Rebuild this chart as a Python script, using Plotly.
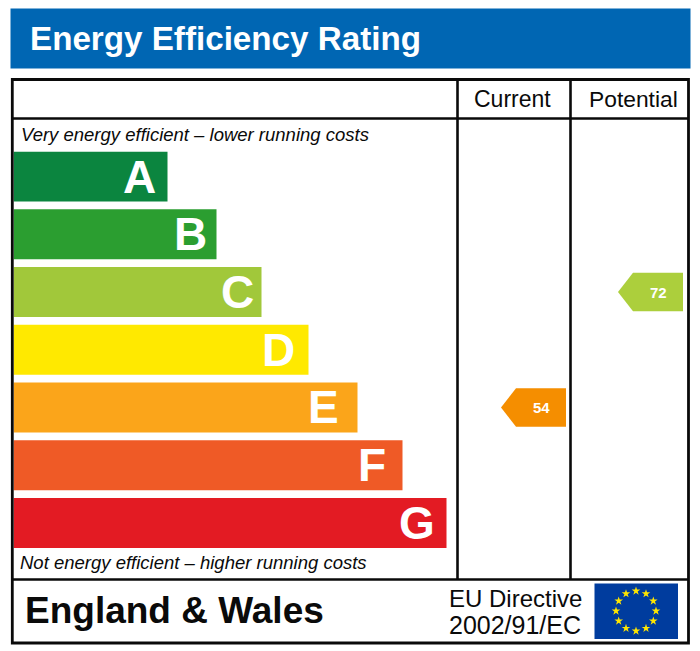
import numpy as np
import plotly.graph_objects as go

W, H = 700, 651
PAGE = 8  # body margin of the page the figure lands on

# Rating bands
bands = ['A', 'B', 'C', 'D', 'E', 'F', 'G']
band_lengths = [154, 203, 248, 295, 344, 389, 433]
band_colors = ['#0B853F', '#2B9E30', '#A1C83A', '#FFE900', '#FBA51A', '#EF5A26', '#E31B23']
letter_inset = [28, 26, 24.5, 30.5, 34, 31, 30]  # letter centre back from the bar end

# Current / potential scores
score_names = ['Current', 'Potential']
score_values = [54, 72]
score_bands = ['E', 'C']
score_colors = ['#F58E00', '#ACCF3C']
score_right = [566, 683]  # right edge of the pointer in each column

fig = go.Figure()

# Bars on their own axes, letters sit inside the bar end
fig.add_trace(go.Bar(
    x=band_lengths, y=list(range(len(bands))), orientation='h', width=0.867,
    marker=dict(color=band_colors, line_width=0), hoverinfo='skip', showlegend=False,
))

# Pointers, positioned on the same rows as the bars
half = 0.334
for name, value, band, color, right in zip(score_names, score_values, score_bands, score_colors, score_right):
    row = bands.index(band)
    fig.add_trace(go.Scatter(
        x=[right, right - 50, right - 65, right - 50, right],
        y=[row - half, row - half, row, row + half, row + half],
        xaxis='x2', yaxis='y', mode='lines', fill='toself', fillcolor=color,
        line=dict(width=0, color=color), hoverinfo='skip', showlegend=False, name=name,
    ))

# EU flag stars
angles = np.deg2rad(np.arange(0, 360, 30))
fig.add_trace(go.Scatter(
    x=636 + 20 * np.sin(angles), y=611 - 20 * np.cos(angles),
    xaxis='x2', yaxis='y2', mode='markers',
    marker=dict(symbol='star', size=6.5, color='#FFE600', line_width=0),
    hoverinfo='skip', showlegend=False,
))

frame = '#0A0A0A'
shapes = [
    dict(type='rect', x0=10.5, x1=690.5, y0=8.5, y1=68.5, fillcolor='#0066B3', line_width=0),
    dict(type='rect', x0=12.3, x1=688.5, y0=79.5, y1=643, line=dict(color=frame, width=2.8)),
    dict(type='line', x0=12.3, x1=688.5, y0=118.5, y1=118.5, line=dict(color=frame, width=2.6)),
    dict(type='line', x0=12.3, x1=688.5, y0=579.5, y1=579.5, line=dict(color=frame, width=2.6)),
    dict(type='line', x0=457.5, x1=457.5, y0=79.5, y1=579.5, line=dict(color=frame, width=2.6)),
    dict(type='line', x0=570.5, x1=570.5, y0=79.5, y1=579.5, line=dict(color=frame, width=2.6)),
    dict(type='rect', x0=594.5, x1=678, y0=583.5, y1=639, fillcolor='#003C9E', line_width=0, layer='below'),
]
for s in shapes:
    s.update(xref='x2', yref='y2')


def label(text, x, y, size, color='#0A0A0A', bold=False, italic=False, anchor='left'):
    return dict(
        text=text, x=x, y=y, xref='x2', yref='y2', xanchor=anchor, yanchor='middle',
        showarrow=False, borderpad=0, borderwidth=0,
        font=dict(family='Liberation Sans', size=size, color=color,
                  weight='bold' if bold else 'normal', style='italic' if italic else 'normal'),
    )


annotations = [
    label('Energy Efficiency Rating', 30, 38, 33.2, color='white', bold=True),
    label('Current', 512, 98.5, 23, anchor='center'),
    label('Potential', 633, 98.5, 22.8, anchor='center'),
    label('Very energy efficient – lower running costs', 21, 134.5, 18.5, italic=True),
    label('Not energy efficient – higher running costs', 20, 562.5, 18.5, italic=True),
    label('England &amp; Wales', 25, 610.5, 37, bold=True),
    label('EU Directive', 448.5, 598.5, 24),
    label('2002/91/EC', 448.5, 625, 25),
]

# Band letters
for band, length, inset in zip(bands, band_lengths, letter_inset):
    annotations.append(dict(
        text=band, x=length, y=bands.index(band), xref='x', yref='y', xanchor='center', yanchor='middle',
        xshift=-inset, showarrow=False, font=dict(family='Liberation Sans', size=46, color='white', weight='bold'),
    ))

for value, band, right in zip(score_values, score_bands, score_right):
    annotations.append(label(str(value), right - 25, None, 15, color='white', bold=True, anchor='center'))
    annotations[-1].update(y=bands.index(band), yref='y')

fig_w, fig_h = W - PAGE, H - PAGE
fig.update_layout(
    width=fig_w, height=fig_h, margin=dict(l=0, r=0, t=0, b=0),
    paper_bgcolor='white', plot_bgcolor='rgba(0,0,0,0)', showlegend=False,
    xaxis=dict(domain=[(13.5 - PAGE) / fig_w, (447.5 - PAGE) / fig_w], range=[0, 434], visible=False, fixedrange=True),
    yaxis=dict(domain=[1 - (548 - PAGE) / fig_h, 1 - (151.5 - PAGE) / fig_h], range=[6.4335, -0.4335],
               visible=False, fixedrange=True),
    xaxis2=dict(domain=[0, 1], range=[PAGE, W], visible=False, anchor='y2', fixedrange=True),
    yaxis2=dict(domain=[0, 1], range=[H, PAGE], visible=False, anchor='x2', fixedrange=True),
    shapes=shapes, annotations=annotations,
)

fig.write_html("out.html")
